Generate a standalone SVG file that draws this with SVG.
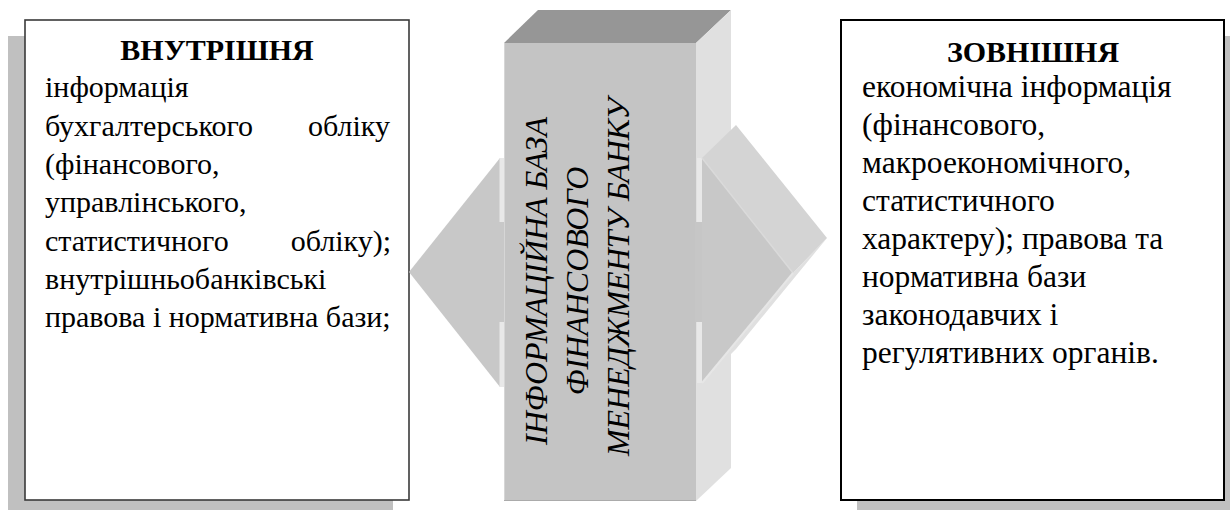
<svg xmlns="http://www.w3.org/2000/svg" width="1230" height="510" viewBox="0 0 1230 510">
  <style>
    text { font-family: "Liberation Serif", "Times New Roman", "DejaVu Serif", serif; fill: #000; }
    .body { font-size: 30px; }
    .body-r { font-size: 31.5px; }
    .title { font-size: 30px; font-weight: bold; }
    .centre { font-size: 32px; font-style: italic; }
    .shadow { fill: #c0c0c0; }
    .front { fill: #c4c4c4; }
    .lid { fill: #969696; }
    .side { fill: #e0e0e0; }
    .arrowtop { fill: #d4d4d4; }
    .strip { fill: #e8e8e8; }
  </style>

  <!-- Internal information block -->
  <g id="internal">
    <rect class="shadow" x="8" y="36" width="385" height="480"/>
    <rect x="25" y="20" width="384" height="480" fill="#fff" stroke="#3a3a3a" stroke-width="1.6"/>
    <text class="title" x="217" y="60" text-anchor="middle">ВНУТРІШНЯ</text>
    <text class="body" x="45" y="97">інформація</text>
    <text class="body" y="135.5"><tspan x="45">бухгалтерського</tspan><tspan x="390" text-anchor="end">обліку</tspan></text>
    <text class="body" x="45" y="174">(фінансового,</text>
    <text class="body" x="45" y="212">управлінського,</text>
    <text class="body" y="250.5"><tspan x="45">статистичного</tspan><tspan x="391" text-anchor="end">обліку);</tspan></text>
    <text class="body" x="45" y="289">внутрішньобанківські</text>
    <text class="body" x="45" y="327">правова і нормативна бази;</text>
  </g>

  <!-- External information block -->
  <g id="external">
    <rect class="shadow" x="857" y="36" width="383" height="480"/>
    <rect x="841" y="20" width="383" height="480" fill="#fff" stroke="#000" stroke-width="2"/>
    <text class="title" x="1033" y="62" text-anchor="middle">ЗОВНІШНЯ</text>
    <text class="body-r" x="862" y="97">економічна інформація</text>
    <text class="body-r" x="862" y="135">(фінансового,</text>
    <text class="body-r" x="862" y="173">макроекономічного,</text>
    <text class="body-r" x="862" y="211">статистичного</text>
    <text class="body-r" x="862" y="249">характеру); правова та</text>
    <text class="body-r" x="862" y="287">нормативна бази</text>
    <text class="body-r" x="862" y="325">законодавчих і</text>
    <text class="body-r" x="862" y="363">регулятивних органів.</text>
  </g>

  <!-- Connectors: 3D arrows passing through the central block -->
  <g id="connectors">
    <!-- left-pointing arrow head (behind the block) -->
    <g id="arrow-left">
      <polygon points="409,272 500,158 500,387" fill="#c8c8c8"/>
      <rect x="499" y="222" width="7" height="100" fill="#c8c8c8"/>
      <rect class="strip" x="499.5" y="158" width="5" height="64"/>
      <rect class="strip" x="499.5" y="322" width="5" height="65"/>
    </g>
  </g>

  <!-- Central 3D block -->
  <g id="core">
    <polygon class="lid" points="504,43 538,10 731,10 696,43"/>
    <polygon class="side" points="696,43 731,10 731,468 696,501"/>
    <rect class="front" x="504" y="43" width="192" height="458"/>
    <line x1="504.5" y1="43" x2="504.5" y2="501" stroke="#d6d6d6" stroke-width="1"/>
    <line x1="504" y1="500.5" x2="696" y2="500.5" stroke="#ababab" stroke-width="1"/>
    <text class="centre" transform="translate(547,277) rotate(-90)" text-anchor="middle">
      <tspan x="0" y="0">ІНФОРМАЦІЙНА БАЗА</tspan>
      <tspan x="0" dy="41">ФІНАНСОВОГО</tspan>
      <tspan x="0" dy="41">МЕНЕДЖМЕНТУ БАНКУ</tspan>
    </text>
  </g>

  <!-- right-pointing arrow head (in front of the block's side face) -->
  <g id="arrow-right">
    <polygon class="side" points="793,273 827,238 736,349 702,383"/>
    <polygon class="arrowtop" points="702,158 736,125 827,238 793,273"/>
    <rect class="strip" x="697" y="158" width="5" height="64"/>
    <rect class="strip" x="697" y="322" width="5" height="61"/>
    <rect x="695" y="222" width="8" height="100" fill="#c6c6c6"/>
    <polygon points="702,158 793,273 702,383" fill="#c8c8c8"/>
    <line x1="702" y1="158" x2="793" y2="273" stroke="#dadada" stroke-width="1.5"/>
    <line x1="793" y1="273" x2="702" y2="383" stroke="#e6e6e6" stroke-width="2"/>
  </g>
</svg>
